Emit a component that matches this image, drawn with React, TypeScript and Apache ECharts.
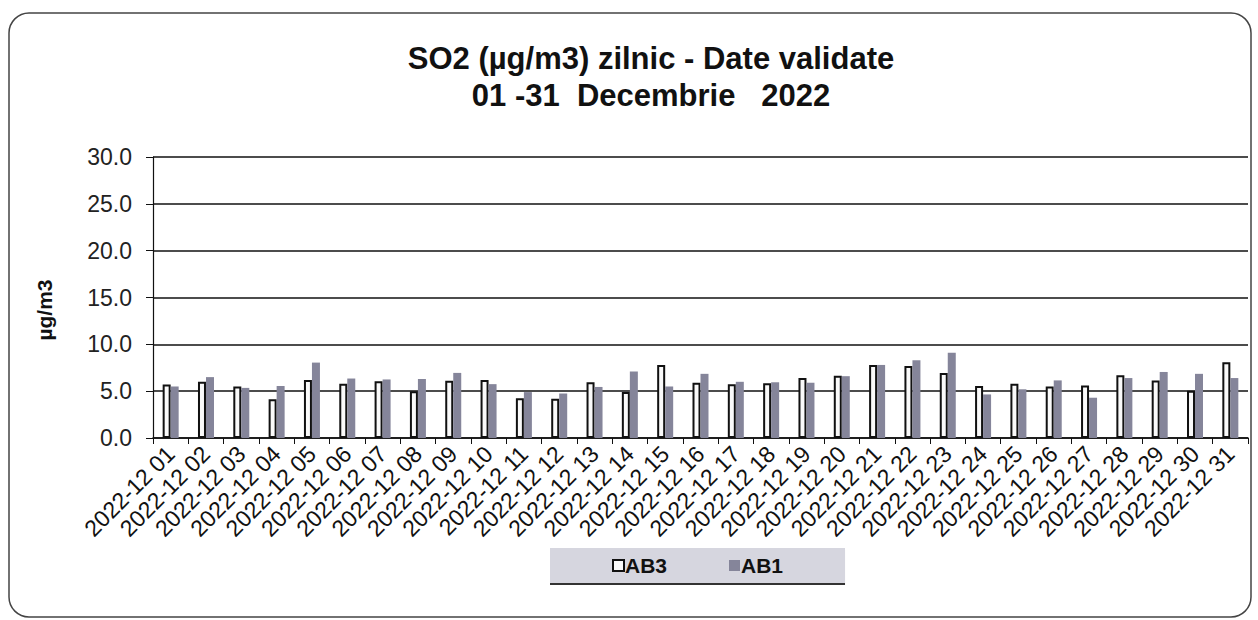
import React, { useEffect, useRef } from "react";
import * as echarts from "echarts";

const categories = [
  "2022-12 01", "2022-12 02", "2022-12 03", "2022-12 04", "2022-12 05", "2022-12 06",
  "2022-12 07", "2022-12 08", "2022-12 09", "2022-12 10", "2022-12 11", "2022-12 12",
  "2022-12 13", "2022-12 14", "2022-12 15", "2022-12 16", "2022-12 17", "2022-12 18",
  "2022-12 19", "2022-12 20", "2022-12 21", "2022-12 22", "2022-12 23", "2022-12 24",
  "2022-12 25", "2022-12 26", "2022-12 27", "2022-12 28", "2022-12 29", "2022-12 30",
  "2022-12 31",
];

const ab3 = [
  5.7, 6.0, 5.5, 4.15, 6.2, 5.8, 6.05, 5.0, 6.1, 6.2, 4.25, 4.2, 5.95, 4.9, 7.8, 5.9,
  5.75, 5.85, 6.4, 6.65, 7.8, 7.7, 6.95, 5.55, 5.8, 5.5, 5.6, 6.7, 6.15, 5.05, 8.1,
];

const ab1 = [
  5.5, 6.5, 5.35, 5.55, 8.05, 6.35, 6.25, 6.3, 6.95, 5.75, 4.9, 4.75, 5.45, 7.1, 5.5, 6.85,
  6.0, 5.95, 5.9, 6.6, 7.8, 8.3, 9.1, 4.65, 5.2, 6.15, 4.3, 6.4, 7.05, 6.85, 6.4,
];

const yTicks = [0, 5, 10, 15, 20, 25, 30];

export default function App() {
  const ref = useRef<HTMLDivElement>(null);
  useEffect(() => {
    if (!ref.current) return;
    const chart = echarts.init(ref.current, undefined, { renderer: "svg" });
    const font = "Arial, 'Liberation Sans', sans-serif";
    chart.setOption({
      animation: false,
      backgroundColor: "#ffffff",
      textStyle: { fontFamily: font },
      title: {
        text: "SO2 (µg/m3) zilnic - Date validate\n01 -31  Decembrie   2022",
        left: 646,
        top: 35,
        textAlign: "center",
        textStyle: {
          fontSize: 31,
          fontWeight: "bold",
          lineHeight: 37,
          color: "#111",
          fontFamily: font,
        },
      },
      graphic: [
        {
          type: "rect",
          shape: { x: 9, y: 13, width: 1242, height: 604, r: 20 },
          style: { fill: "none", stroke: "#444", lineWidth: 1.5 },
          silent: true,
          z: -1,
        },
      ],
      legend: {
        data: ["AB3", "AB1"],
        left: 550,
        top: 548,
        padding: [7, 62, 7, 62],
        itemGap: 62,
        itemWidth: 11,
        itemHeight: 11,
        icon: "rect",
        backgroundColor: "#d6d6df",
        shadowColor: "rgba(0,0,0,0.8)",
        shadowOffsetY: 2,
        shadowBlur: 0,
        textStyle: { fontSize: 21, fontWeight: "bold", color: "#111", fontFamily: font, padding: [0, 0, 0, -4] },
      },
      grid: { left: 153, right: 10, top: 157, bottom: 182, containLabel: false },
      xAxis: {
        type: "category",
        data: categories,
        boundaryGap: true,
        axisLine: { lineStyle: { color: "#111", width: 1.5 } },
        axisTick: { show: true, length: 6, alignWithLabel: false, lineStyle: { color: "#111", width: 1 } },
        axisLabel: {
          rotate: 45,
          interval: 0,
          fontSize: 23,
          color: "#111",
          margin: 12,
          fontFamily: font,
        },
      },
      yAxis: {
        type: "value",
        min: yTicks[0],
        max: yTicks[yTicks.length - 1],
        interval: 5,
        name: "µg/m3",
        nameLocation: "middle",
        nameRotate: 90,
        nameGap: 98,
        nameTextStyle: { fontSize: 21, fontWeight: "bold", color: "#111", fontFamily: font, padding: [0, 0, 0, -25] },
        axisLine: { show: true, lineStyle: { color: "#111", width: 1.2 } },
        axisTick: { show: true, length: 7, lineStyle: { color: "#111" } },
        axisLabel: {
          fontSize: 23,
          color: "#222",
          margin: 21,
          fontFamily: font,
          formatter: (v: number) => v.toFixed(1),
        },
        splitLine: { show: true, lineStyle: { color: "#111", width: 1.5 } },
      },
      series: [
        {
          name: "AB3",
          type: "bar",
          data: ab3,
          barWidth: 8,
          barGap: "0%",
          itemStyle: { color: "#fafafa", borderColor: "#111", borderWidth: 2 },
        },
        {
          name: "AB1",
          type: "bar",
          data: ab1,
          barWidth: 8,
          itemStyle: { color: "#85859a" },
        },
      ],
    });
    return () => chart.dispose();
  }, []);
  return (
    <div
      ref={ref}
      style={{ position: "absolute", left: 0, top: 0, width: 1258, height: 620 }}
    />
  );
}
